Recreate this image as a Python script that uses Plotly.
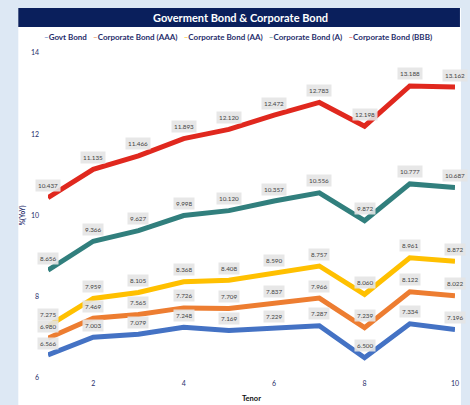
import plotly.graph_objects as go

tenor = [1, 2, 3, 4, 5, 6, 7, 8, 9, 10]
govt = [6.566, 7.003, 7.079, 7.248, 7.169, 7.229, 7.287, 6.500, 7.334, 7.196]
aaa = [6.980, 7.469, 7.565, 7.726, 7.709, 7.837, 7.966, 7.239, 8.122, 8.022]
aa = [7.275, 7.959, 8.105, 8.368, 8.408, 8.590, 8.757, 8.060, 8.961, 8.872]
a_ = [8.656, 9.366, 9.627, 9.998, 10.120, 10.357, 10.556, 9.872, 10.777, 10.687]
bbb = [10.437, 11.135, 11.466, 11.893, 12.120, 12.472, 12.783, 12.198, 13.188, 13.162]

names = ["Govt Bond", "Corporate Bond (AAA)", "Corporate Bond (AA)", "Corporate Bond (A)", "Corporate Bond (BBB)"]
colors = ["#4472c4", "#ed7d31", "#ffc000", "#317f7d", "#e0281e"]
series = [govt, aaa, aa, a_, bbb]
y_ticks = [6, 8, 10, 12, 14]
x_ticks = [2, 4, 6, 8, 10]

FONT = "Lato"
NAVY = "#1f2d6b"

fig = go.Figure()
for name, col, vals in zip(names, colors, series):
    fig.add_trace(go.Scatter(x=tenor, y=vals, mode="lines", name=name,
                             line=dict(color=col, width=5), cliponaxis=False,
                             showlegend=False))

W, H = 470, 405
ML, MR, MT, MB = 48, 11, 53, 27
pw, ph = W - ML - MR, H - MT - MB
def px(xp):
    return (xp - ML) / pw
def py(yp):
    return (H - MB - yp) / ph

annotations = []
for vals in series:
    for x, v in zip(tenor, vals):
        annotations.append(dict(x=x, y=v, xref="x", yref="y", text=f"{v:.3f}",
                                showarrow=False, yshift=12,
                                font=dict(family=FONT, size=6.3, color="#444444"),
                                bgcolor="rgba(228,228,228,0.9)", borderpad=2))

# legend drawn as text
leg = "   ".join(f"<span style='color:{c}'>–</span><b>{n}</b>" for n, c in zip(names, colors))
annotations.append(dict(x=px(240), y=py(37), xref="paper", yref="paper", text=leg, showarrow=False,
                        xanchor="center", yanchor="middle",
                        font=dict(family=FONT, size=8, color=NAVY)))
annotations.append(dict(x=px(242), y=py(17.5), xref="paper", yref="paper",
                        text="<b>Goverment Bond & Corporate Bond</b>", showarrow=False,
                        xanchor="center", yanchor="middle",
                        font=dict(family=FONT, size=11, color="white")))
annotations.append(dict(x=px(22), y=py(215), xref="paper", yref="paper",
                        text="<b>%(YoY)</b>", showarrow=False, textangle=-90,
                        xanchor="center", yanchor="middle",
                        font=dict(family=FONT, size=6.5, color=NAVY)))
annotations.append(dict(x=px(254), y=py(399), xref="paper", yref="paper",
                        text="<b>Tenor</b>", showarrow=False,
                        xanchor="center", yanchor="middle",
                        font=dict(family=FONT, size=7.5, color="#111111")))

shapes = [
    dict(type="rect", xref="paper", yref="paper", layer="below",
         x0=px(18), x1=px(465), y0=py(405), y1=py(8),
         fillcolor="white", line=dict(width=0)),
    dict(type="rect", xref="paper", yref="paper", layer="below",
         x0=px(18), x1=px(464), y0=py(27), y1=py(8),
         fillcolor="#0a1f5c", line=dict(width=0)),
]

fig.update_layout(
    width=W, height=H,
    paper_bgcolor="#dde8f4", plot_bgcolor="white",
    margin=dict(l=ML, r=MR, t=MT, b=MB),
    font=dict(family=FONT, color=NAVY),
    showlegend=False,
    xaxis=dict(range=[1, 10], tickvals=x_ticks, showgrid=False, zeroline=False,
               showline=False, tickfont=dict(size=7, color=NAVY, family=FONT)),
    yaxis=dict(range=[6, 14], tickvals=y_ticks, showgrid=False, zeroline=False,
               showline=False, tickfont=dict(size=7, color=NAVY, family=FONT),
               ticklabelstandoff=8),
    annotations=annotations,
    shapes=shapes,
)

fig.write_html("out.html", config={"displayModeBar": False},
               post_script="document.body.style.margin='0';document.body.style.overflow='hidden';")
